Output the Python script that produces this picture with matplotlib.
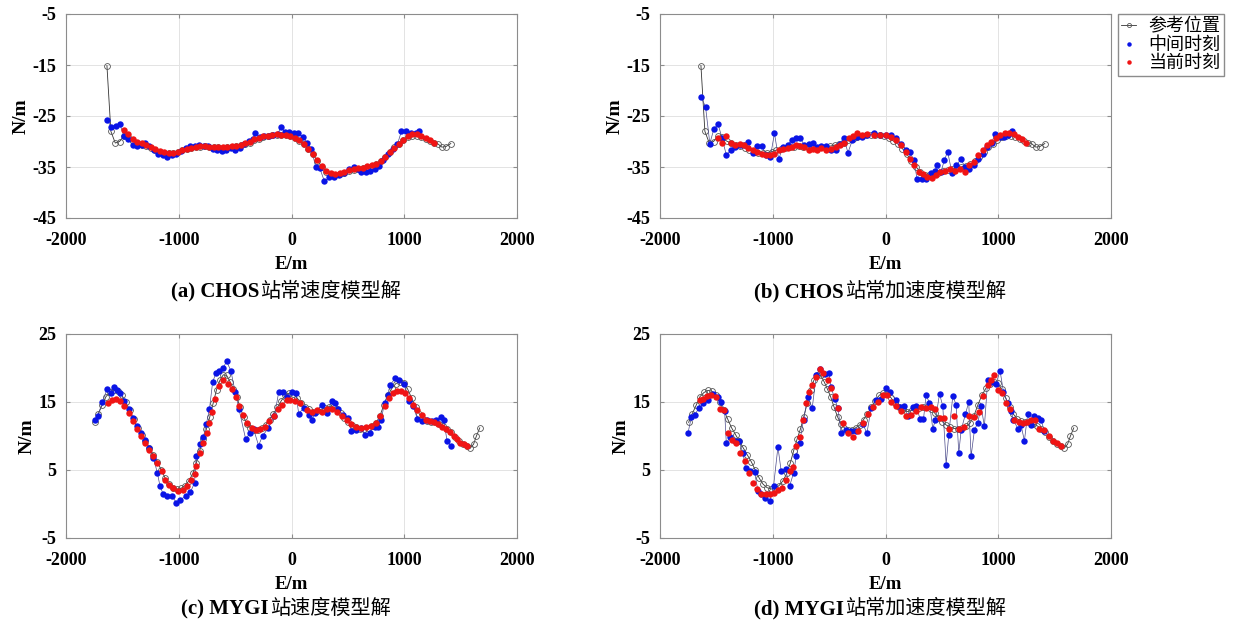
"""
Recreate: CHOS / MYGI station trajectory solutions (E/m vs N/m), 2x2 panels.
"""
import numpy as np
import matplotlib
matplotlib.use('Agg')
import matplotlib.pyplot as plt

plt.rcParams['font.family'] = ['Liberation Serif', 'Noto Sans CJK SC']
plt.rcParams['font.weight'] = 'bold'
plt.rcParams['axes.unicode_minus'] = False

# ====== data (E, N) ======
# CHOS reference track (shared by a and b)
chos_ref = [(-1637, -15.1), (-1602, -28.0), (-1563, -30.3), (-1525, -30.0), (-1490, -29.0),
            (-1450, -29.2), (-1410, -29.9), (-1370, -30.3), (-1330, -30.6), (-1290, -30.8),
            (-1250, -31.2), (-1210, -31.6), (-1170, -32.0), (-1130, -32.2), (-1090, -32.3),
            (-1050, -32.2), (-1010, -32.0), (-970, -31.7), (-930, -31.5), (-890, -31.3),
            (-850, -31.1), (-810, -31.0), (-770, -30.9), (-730, -31.0), (-690, -31.1),
            (-650, -31.1), (-610, -31.2), (-570, -31.1), (-530, -31.0), (-490, -30.9),
            (-450, -30.7), (-410, -30.5), (-370, -30.2), (-330, -29.8), (-290, -29.5),
            (-250, -29.2), (-210, -29.0), (-170, -28.8), (-130, -28.7), (-90, -28.7),
            (-50, -28.8), (-10, -29.0), (30, -29.4), (70, -29.9), (110, -30.5),
            (150, -31.4), (190, -32.5), (230, -33.8), (270, -35.0), (310, -35.9),
            (350, -36.5), (390, -36.6), (430, -36.4), (470, -36.1), (510, -35.8),
            (550, -35.6), (590, -35.4), (630, -35.2), (670, -35.0), (710, -34.8),
            (750, -34.5), (790, -33.9), (830, -33.0), (870, -32.0), (910, -31.1),
            (950, -30.4), (990, -29.8), (1030, -29.2), (1070, -28.9), (1110, -28.9),
            (1150, -29.1), (1190, -29.5), (1230, -29.9), (1265, -30.2), (1295, -30.4),
            (1333, -31.1), (1369, -31.0), (1413, -30.4)]

# (a) constant velocity model
a_mid = [(-1635, -25.8), (-1600, -27.1), (-1560, -26.9), (-1522, -26.6), (-1487, -28.9),
         (-1450, -29.5), (-1410, -30.6), (-1370, -30.8), (-1330, -30.6), (-1295, -30.2),
         (-1260, -30.8), (-1220, -31.6), (-1180, -32.4), (-1140, -32.6), (-1100, -33.0),
         (-1060, -32.7), (-1020, -32.5), (-980, -31.8), (-940, -31.3), (-900, -30.9),
         (-860, -30.8), (-820, -30.7), (-780, -30.8), (-740, -30.9), (-700, -31.4),
         (-660, -31.7), (-620, -31.9), (-580, -31.6), (-540, -31.3), (-500, -31.6),
         (-460, -31.2), (-420, -30.4), (-380, -29.9), (-340, -29.6), (-320, -28.4),
         (-280, -29.2), (-240, -29.0), (-200, -28.9), (-160, -28.7), (-120, -28.5),
         (-94, -27.1), (-60, -28.2), (-20, -28.2), (20, -28.3), (60, -28.4),
         (100, -29.1), (140, -30.3), (175, -31.4), (215, -35.0), (250, -35.2),
         (292, -37.8), (336, -37.0), (381, -37.0), (425, -36.6), (470, -36.2),
         (510, -35.4), (550, -35.0), (590, -35.3), (620, -35.9), (660, -35.9),
         (700, -35.7), (740, -35.3), (780, -34.9), (815, -33.6), (860, -32.5),
         (900, -31.4), (940, -30.5), (975, -28.0), (1015, -28.0), (1060, -28.3),
         (1100, -28.4), (1135, -28.0)]
a_cur = [(-1490, -27.8), (-1450, -28.6), (-1410, -29.6), (-1370, -30.0), (-1330, -30.3),
         (-1290, -30.6), (-1250, -31.0), (-1210, -31.5), (-1170, -31.9), (-1130, -32.1),
         (-1090, -32.2), (-1050, -32.2), (-1010, -32.0), (-970, -31.7), (-930, -31.4),
         (-890, -31.2), (-850, -31.0), (-810, -30.9), (-770, -30.9), (-730, -31.0),
         (-690, -31.0), (-650, -31.1), (-610, -31.1), (-570, -31.0), (-530, -30.9),
         (-490, -30.8), (-450, -30.6), (-410, -30.3), (-370, -30.0), (-330, -29.6),
         (-290, -29.3), (-250, -29.0), (-210, -28.9), (-170, -28.7), (-130, -28.6),
         (-90, -28.7), (-50, -28.8), (-10, -29.0), (30, -29.3), (70, -29.8),
         (110, -30.5), (150, -31.4), (190, -32.5), (230, -33.6), (270, -34.8),
         (310, -35.7), (350, -36.2), (390, -36.4), (430, -36.2), (470, -35.9),
         (510, -35.6), (550, -35.4), (590, -35.2), (630, -35.1), (670, -34.9),
         (710, -34.7), (750, -34.4), (790, -33.8), (830, -33.0), (870, -32.1),
         (910, -31.2), (950, -30.4), (990, -29.7), (1030, -29.0), (1070, -28.6),
         (1110, -28.6), (1150, -28.9), (1190, -29.3), (1230, -29.8), (1260, -30.2)]

# (b) constant acceleration model
b_mid = [(-1637, -21.2), (-1596, -23.2), (-1558, -30.4), (-1523, -27.6), (-1485, -26.6),
         (-1449, -29.4), (-1411, -32.7), (-1373, -31.7), (-1338, -31.1), (-1294, -30.7),
         (-1256, -30.7), (-1220, -30.0), (-1176, -32.2), (-1138, -30.9), (-1097, -30.9),
         (-1059, -32.6), (-1021, -33.0), (-985, -28.4), (-947, -33.5), (-912, -31.1),
         (-868, -30.6), (-833, -29.8), (-794, -29.4), (-756, -29.3), (-721, -30.7),
         (-677, -30.4), (-639, -30.2), (-604, -31.1), (-568, -30.9), (-530, -30.9),
         (-486, -31.7), (-442, -31.7), (-404, -30.4), (-369, -29.3), (-333, -32.2),
         (-295, -29.8), (-251, -29.1), (-207, -29.1), (-163, -28.8), (-104, -28.4),
         (-46, -28.8), (2, -28.8), (45, -28.8), (90, -29.4), (134, -30.4),
         (178, -31.7), (216, -32.0), (251, -33.7), (280, -37.3), (325, -37.3),
         (363, -37.3), (404, -36.1), (442, -35.7), (457, -34.7), (492, -36.0),
         (521, -33.7), (551, -32.0), (589, -36.1), (627, -34.7), (668, -33.5),
         (706, -35.0), (744, -35.3), (786, -34.7), (824, -33.5), (862, -32.4),
         (897, -31.1), (941, -30.2), (971, -28.6), (1015, -29.1), (1050, -29.1),
         (1088, -28.8), (1126, -28.0)]
b_cur = [(-1490, -29.3), (-1449, -30.2), (-1411, -28.9), (-1373, -30.2), (-1338, -30.7),
         (-1294, -30.4), (-1256, -30.7), (-1220, -31.3), (-1176, -31.7), (-1138, -32.0),
         (-1097, -32.4), (-1059, -32.7), (-1021, -32.7), (-985, -32.4), (-947, -31.7),
         (-912, -31.4), (-868, -31.3), (-833, -31.1), (-794, -30.7), (-756, -30.9),
         (-721, -31.1), (-677, -31.6), (-639, -31.4), (-604, -31.6), (-568, -31.3),
         (-530, -31.6), (-486, -31.4), (-442, -31.1), (-404, -30.7), (-369, -30.2),
         (-325, -29.4), (-287, -28.9), (-251, -28.4), (-207, -28.8), (-163, -28.6),
         (-104, -28.8), (-46, -28.8), (2, -28.8), (45, -29.1), (90, -29.8),
         (134, -30.7), (178, -32.0), (216, -33.4), (251, -34.7), (295, -35.9),
         (333, -36.3), (369, -37.0), (413, -37.2), (451, -36.5), (486, -36.0),
         (530, -35.7), (574, -35.3), (618, -35.7), (662, -35.3), (706, -35.9),
         (744, -34.7), (786, -34.0), (824, -32.7), (862, -31.7), (897, -30.7),
         (935, -30.0), (979, -29.3), (1015, -28.8), (1059, -28.4), (1097, -28.4),
         (1138, -28.6), (1176, -29.1), (1214, -29.6), (1250, -30.2)]

# MYGI reference track (shared by c and d)
mygi_ref = [(-1746, 12.0), (-1716, 13.2), (-1680, 14.5), (-1645, 15.8), (-1610, 16.4),
            (-1575, 16.7), (-1540, 16.6), (-1505, 16.0), (-1470, 15.0), (-1435, 13.8),
            (-1400, 12.5), (-1365, 11.2), (-1330, 10.2), (-1295, 9.2), (-1260, 8.2),
            (-1225, 7.2), (-1190, 6.2), (-1155, 5.0), (-1120, 3.8), (-1085, 2.9),
            (-1050, 2.4), (-1015, 2.2), (-980, 2.3), (-945, 2.7), (-910, 3.4),
            (-875, 4.5), (-845, 6.0), (-815, 7.8), (-785, 9.5), (-755, 11.0),
            (-725, 12.8), (-695, 14.8), (-665, 16.8), (-635, 18.2), (-605, 19.0),
            (-575, 18.9), (-545, 18.0), (-515, 16.9), (-485, 15.7), (-455, 14.2),
            (-425, 12.8), (-395, 11.8), (-365, 11.2), (-335, 10.9), (-300, 10.9),
            (-265, 11.2), (-230, 11.6), (-195, 12.4), (-160, 13.3), (-125, 14.2),
            (-90, 15.2), (-55, 16.0), (-20, 16.3), (15, 16.2), (50, 15.6),
            (85, 14.8), (120, 14.2), (155, 13.9), (190, 13.6), (225, 13.7),
            (260, 13.9), (295, 14.1), (330, 14.3), (365, 14.3), (400, 14.0),
            (435, 13.4), (470, 12.7), (505, 12.1), (540, 11.6), (575, 11.3),
            (610, 11.1), (645, 11.1), (680, 11.2), (715, 11.4), (750, 11.9),
            (785, 13.0), (820, 14.6), (855, 16.0), (890, 17.0), (925, 17.7),
            (960, 18.0), (995, 17.8), (1030, 16.9), (1065, 15.6), (1100, 14.3),
            (1135, 13.2), (1170, 12.5), (1205, 12.2), (1240, 12.1), (1275, 12.0),
            (1310, 11.8), (1345, 11.5), (1380, 11.1), (1415, 10.6), (1450, 9.9),
            (1485, 9.2), (1520, 8.8), (1555, 8.5), (1585, 8.2), (1615, 8.8),
            (1640, 10.0), (1670, 11.2)]

# (c) velocity model
c_mid = [(-1746, 12.4), (-1716, 13.0), (-1678, 15.0), (-1635, 16.9), (-1605, 16.3),
         (-1576, 17.2), (-1547, 16.7), (-1518, 16.3), (-1482, 15.2), (-1444, 13.9),
         (-1406, 12.6), (-1371, 11.4), (-1336, 10.4), (-1298, 9.4), (-1260, 8.3),
         (-1225, 6.8), (-1190, 4.6), (-1167, 2.7), (-1137, 1.4), (-1102, 1.2),
         (-1064, 1.2), (-1020, 0.2), (-985, 0.6), (-939, 1.2), (-898, 1.7),
         (-860, 3.1), (-845, 7.0), (-810, 8.8), (-781, 9.9), (-755, 11.8),
         (-728, 13.9), (-699, 18.0), (-670, 19.2), (-640, 19.5), (-605, 20.0),
         (-576, 21.0), (-538, 19.6), (-500, 16.5), (-465, 13.9), (-406, 9.5),
         (-371, 10.4), (-336, 11.0), (-292, 8.6), (-257, 10.0), (-205, 11.2),
         (-152, 12.9), (-114, 16.4), (-79, 16.4), (-41, 15.8), (3, 16.4),
         (38, 16.3), (64, 13.3), (108, 14.1), (152, 13.1), (181, 12.4),
         (210, 13.4), (269, 14.6), (313, 13.4), (357, 15.1), (386, 14.9),
         (415, 13.9), (459, 13.1), (503, 12.7), (532, 10.7), (576, 10.9),
         (620, 11.2), (649, 10.2), (693, 10.5), (737, 11.3), (766, 11.3),
         (796, 12.4), (825, 14.9), (854, 16.1), (874, 17.5), (921, 18.5),
         (956, 18.3), (1000, 17.7), (1044, 15.1), (1079, 14.4), (1117, 12.5),
         (1161, 12.2), (1205, 12.4), (1243, 12.2), (1278, 12.3), (1322, 12.8),
         (1351, 12.4), (1380, 9.2), (1418, 8.5)]
c_cur = [(-1629, 14.9), (-1591, 15.3), (-1553, 15.4), (-1518, 15.1), (-1482, 14.4),
         (-1444, 13.4), (-1406, 12.2), (-1371, 11.0), (-1336, 10.0), (-1298, 9.0),
         (-1260, 8.0), (-1225, 7.0), (-1190, 6.1), (-1152, 4.9), (-1123, 3.6),
         (-1085, 2.8), (-1050, 2.3), (-1006, 1.9), (-962, 2.1), (-927, 2.7),
         (-889, 3.6), (-860, 4.4), (-851, 5.6), (-810, 7.5), (-781, 9.0),
         (-751, 10.5), (-728, 11.9), (-705, 13.6), (-675, 15.4), (-640, 17.3),
         (-605, 18.2), (-567, 17.7), (-529, 16.9), (-494, 15.8), (-465, 14.4),
         (-430, 13.1), (-392, 11.9), (-354, 11.2), (-319, 10.9), (-275, 11.0),
         (-231, 11.3), (-196, 12.2), (-158, 12.9), (-120, 13.9), (-85, 14.6),
         (-41, 15.3), (-9, 15.3), (35, 15.1), (79, 14.9), (137, 13.8),
         (181, 13.5), (225, 13.8), (269, 13.6), (313, 13.9), (357, 14.0),
         (401, 13.6), (444, 13.0), (488, 12.4), (532, 11.8), (576, 11.3),
         (620, 11.2), (664, 11.3), (708, 11.5), (751, 11.9), (787, 13.0),
         (825, 14.4), (863, 15.6), (898, 16.3), (933, 16.6), (971, 16.6),
         (1009, 16.3), (1044, 15.6), (1079, 14.6), (1117, 13.8), (1155, 13.1),
         (1190, 12.4), (1225, 12.2), (1263, 12.0), (1301, 11.7), (1336, 11.3),
         (1371, 11.0), (1409, 10.6), (1439, 10.0), (1468, 9.5), (1497, 9.0),
         (1526, 8.8), (1556, 8.6)]

# (d) constant acceleration model
d_mid = [(-1752, 10.4), (-1722, 12.8), (-1693, 13.1), (-1654, 14.1), (-1619, 14.8),
         (-1575, 15.3), (-1530, 16.2), (-1486, 15.7), (-1456, 15.0), (-1427, 13.7),
         (-1412, 9.0), (-1377, 9.8), (-1338, 9.2), (-1300, 9.3), (-1264, 7.5),
         (-1241, 5.3), (-1199, 4.8), (-1161, 4.7), (-1131, 1.9), (-1102, 1.4),
         (-1072, 0.9), (-1028, 0.4), (-993, 2.6), (-954, 8.4), (-925, 4.8),
         (-886, 5.1), (-851, 2.6), (-815, 4.6), (-792, 7.0), (-762, 9.0),
         (-727, 12.4), (-688, 15.8), (-650, 14.1), (-614, 19.0), (-579, 19.9),
         (-541, 19.1), (-502, 19.2), (-482, 17.2), (-452, 15.5), (-422, 14.1),
         (-393, 10.4), (-349, 10.9), (-304, 10.7), (-260, 10.7), (-201, 11.8),
         (-165, 10.4), (-127, 14.1), (-83, 15.3), (-38, 15.4), (6, 17.0),
         (41, 16.5), (95, 15.3), (130, 14.3), (168, 14.4), (198, 12.9),
         (242, 14.3), (272, 14.4), (307, 12.5), (337, 12.5), (360, 16.0),
         (390, 14.9), (419, 11.1), (443, 12.3), (479, 16.2), (508, 14.4),
         (538, 5.8), (561, 10.2), (597, 15.9), (626, 14.6), (650, 7.5),
         (671, 10.9), (709, 13.2), (738, 15.0), (759, 7.0), (789, 10.9),
         (818, 11.9), (848, 14.4), (877, 11.4), (907, 18.3), (936, 18.0),
         (981, 17.7), (1016, 19.6), (1046, 16.5), (1084, 14.9), (1114, 13.7),
         (1134, 12.4), (1173, 11.1), (1202, 11.6), (1232, 9.3), (1261, 13.2),
         (1291, 11.6), (1320, 12.9), (1350, 12.6), (1379, 12.4), (1409, 10.7)]
d_cur = [(-1648, 15.3), (-1619, 15.5), (-1584, 15.9), (-1545, 16.0), (-1507, 15.8),
         (-1471, 13.9), (-1436, 13.8), (-1397, 10.4), (-1359, 9.4), (-1323, 8.9),
         (-1288, 7.5), (-1250, 6.3), (-1211, 4.6), (-1176, 3.1), (-1140, 2.2),
         (-1102, 1.5), (-1064, 1.4), (-1028, 1.4), (-993, 1.6), (-954, 2.0),
         (-916, 2.4), (-880, 3.6), (-851, 4.8), (-821, 5.5), (-792, 8.5),
         (-762, 9.9), (-733, 12.4), (-703, 14.9), (-679, 16.5), (-650, 17.5),
         (-620, 18.7), (-585, 19.9), (-550, 19.3), (-511, 18.2), (-482, 17.0),
         (-452, 15.9), (-422, 14.1), (-378, 11.9), (-334, 10.5), (-290, 9.9),
         (-245, 10.7), (-201, 11.9), (-157, 13.2), (-112, 14.2), (-68, 15.0),
         (-24, 16.0), (12, 16.0), (50, 15.0), (95, 14.4), (139, 13.7),
         (183, 13.0), (227, 13.1), (272, 13.7), (316, 14.2), (360, 14.1),
         (405, 14.2), (443, 13.9), (479, 12.6), (523, 12.6), (567, 11.1),
         (611, 12.9), (656, 11.1), (700, 11.3), (745, 12.9), (789, 12.8),
         (833, 13.6), (868, 15.9), (907, 17.5), (936, 18.3), (966, 19.0),
         (996, 16.8), (1034, 16.3), (1069, 14.8), (1105, 13.9), (1143, 12.4),
         (1181, 12.1), (1217, 11.9), (1253, 12.0), (1291, 12.4), (1329, 12.3),
         (1365, 11.1), (1409, 10.9), (1447, 10.0), (1483, 9.2), (1518, 8.9),
         (1557, 8.5)]

PANELS = [
    ('(a) CHOS', '站常速度模型解', chos_ref, a_mid, a_cur, (-45, -5), [-45, -35, -25, -15, -5]),
    ('(b) CHOS', '站常加速度模型解', chos_ref, b_mid, b_cur, (-45, -5), [-45, -35, -25, -15, -5]),
    ('(c) MYGI', '站速度模型解', mygi_ref, c_mid, c_cur, (-5, 25), [-5, 5, 15, 25]),
    ('(d) MYGI', '站常加速度模型解', mygi_ref, d_mid, d_cur, (-5, 25), [-5, 5, 15, 25]),
]
LEGEND_LABELS = ['参考位置', '中间时刻', '当前时刻']

W, H = 1236, 625
fig = plt.figure(figsize=(W / 100, H / 100), dpi=100)

# axes boxes in pixels: left, top, right, bottom
boxes = [(66, 14, 517, 218), (660, 14, 1111, 218),
         (66, 334, 517, 538), (660, 334, 1111, 538)]

subtitle_pairs = []
for (tag, cn, ref, mid, cur, ylim, yticks), (l, t, r, b) in zip(PANELS, boxes):
    ax = fig.add_axes([l / W, 1 - b / H, (r - l) / W, (b - t) / H])
    re, rn = np.array(ref).T
    me, mn = np.array(mid).T
    ce, cn_ = np.array(cur).T

    h1, = ax.plot(re, rn, '-', color='#333333', linewidth=0.6, marker='o', markersize=4.2,
                  markerfacecolor='none', markeredgecolor='#555555', markeredgewidth=0.6,
                  zorder=2)
    ax.plot(me, mn, '-', color='#4a4a8a', linewidth=0.5, zorder=3)
    h2, = ax.plot(me, mn, 'o', color='#0a14e6', markersize=4.6, markeredgewidth=0, zorder=3)
    h3, = ax.plot(ce, cn_, 'o', color='#f01414', markersize=4.6, markeredgewidth=0, zorder=4)

    ax.set_xlim(-2000, 2000)
    ax.set_ylim(*ylim)
    ax.set_xticks([-2000, -1000, 0, 1000, 2000])
    ax.set_yticks(yticks)
    ax.grid(True, color='#e3e3e3', linewidth=0.7)
    ax.set_axisbelow(True)
    for s in ax.spines.values():
        s.set_color('#8c8c8c')
        s.set_linewidth(0.8)
    ax.tick_params(direction='in', length=3, color='#8c8c8c', labelsize=13,
                   top=True, right=True)
    ax.tick_params(axis='x', pad=10)
    ax.tick_params(axis='y', pad=7)
    ax.set_xlabel('E/m', fontsize=13.5, fontweight='bold', labelpad=5)
    ax.set_ylabel('N/m', fontsize=14, fontweight='bold', labelpad=2)

    if tag.startswith('(b)'):
        ax.legend([h1, h2, h3], LEGEND_LABELS, loc='upper left', bbox_to_anchor=(1.015, 1.0),
                  prop={'family': 'Noto Sans CJK SC', 'size': 13, 'weight': 'normal'},
                  fancybox=False, edgecolor='#8c8c8c', framealpha=1, markerscale=0.7,
                  handlelength=0.8, handletextpad=0.7, borderpad=0.2, labelspacing=0.02,
                  borderaxespad=0)

    cx = (l + r) / 2 - 6
    ty = b + (79 if t < 100 else 76)
    t1 = fig.text(cx / W, 1 - ty / H, tag, fontsize=15, fontweight='bold',
                  family='Liberation Serif', va='baseline', ha='left')
    t2 = fig.text(cx / W, 1 - ty / H, cn, fontsize=14.5, fontweight='normal',
                  family='Noto Sans CJK SC', va='baseline', ha='left')
    subtitle_pairs.append((cx, t1, t2))

# center each two-font subtitle under its panel
fig.canvas.draw()
rend = fig.canvas.get_renderer()
for cx, t1, t2 in subtitle_pairs:
    w1 = t1.get_window_extent(rend).width
    w2 = t2.get_window_extent(rend).width
    x0 = cx - (w1 + w2) / 2
    t1.set_x(x0 / W)
    t2.set_x((x0 + w1 + 1) / W)

fig.savefig('out.png', dpi=100)
print("Saved: out.png")
